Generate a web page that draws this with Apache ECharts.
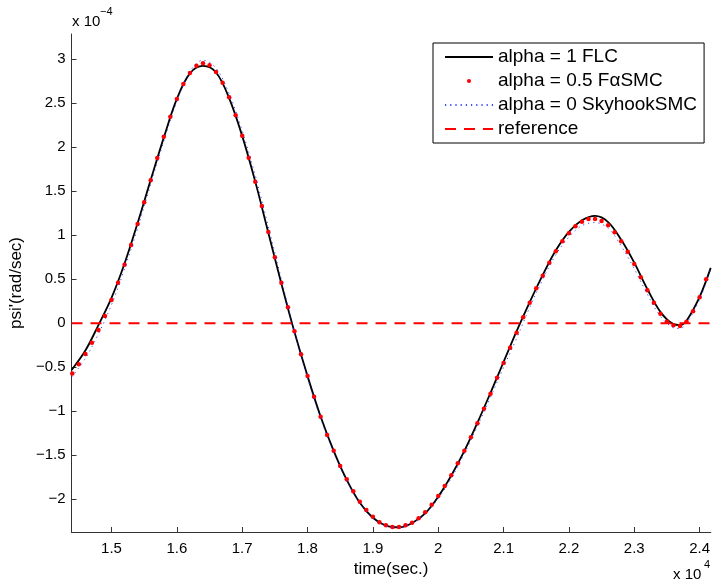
<!DOCTYPE html>
<html>
<head>
<meta charset="utf-8">
<title>psi' response</title>
<script src="https://cdn.jsdelivr.net/npm/echarts@6/dist/echarts.min.js"></script>
<style>
  html, body { margin: 0; padding: 0; background: #fff; }
  #chart { width: 713px; height: 584px; }
</style>
</head>
<body>
<div id="chart"></div>
<script>
// Time in units of 1e4 s, yaw rate psi' in units of 1e-4 rad/s.

// alpha = 1 (FLC), solid black
const flcTime = [1.439, 1.46, 1.48, 1.50, 1.52, 1.54, 1.56, 1.58, 1.60, 1.62, 1.64, 1.66, 1.68,
  1.70, 1.72, 1.74, 1.76, 1.78, 1.80, 1.82, 1.84, 1.86, 1.88, 1.90, 1.92, 1.94, 1.96, 1.98,
  2.00, 2.02, 2.04, 2.06, 2.08, 2.10, 2.12, 2.14, 2.16, 2.18, 2.20, 2.22, 2.24, 2.26, 2.28,
  2.30, 2.32, 2.34, 2.36, 2.37, 2.38, 2.40, 2.417];
const flcRate = [-0.53, -0.31, -0.02, 0.29, 0.68, 1.14, 1.63, 2.11, 2.55, 2.84, 2.925, 2.85, 2.56,
  2.13, 1.61, 1.03, 0.45, -0.10, -0.60, -1.06, -1.45, -1.78, -2.04, -2.21, -2.30, -2.32, -2.27, -2.16,
  -1.97, -1.73, -1.45, -1.13, -0.79, -0.44, -0.09, 0.24, 0.55, 0.83, 1.04, 1.17, 1.22, 1.15, 0.95,
  0.69, 0.39, 0.13, -0.01, -0.02, 0.03, 0.30, 0.63];

// alpha = 0.5 (FαSMC), red point markers
const fsmcTime = [1.44, 1.45, 1.46, 1.47, 1.48, 1.49, 1.50, 1.51, 1.52, 1.53, 1.54, 1.55, 1.56, 1.57,
  1.58, 1.59, 1.60, 1.61, 1.62, 1.63, 1.64, 1.65, 1.66, 1.67, 1.68, 1.69, 1.70, 1.71, 1.72, 1.73,
  1.74, 1.75, 1.76, 1.77, 1.78, 1.79, 1.80, 1.81, 1.82, 1.83, 1.84, 1.85, 1.86, 1.87, 1.88, 1.89,
  1.90, 1.91, 1.92, 1.93, 1.94, 1.95, 1.96, 1.97, 1.98, 1.99, 2.00, 2.01, 2.02, 2.03, 2.04, 2.05,
  2.06, 2.07, 2.08, 2.09, 2.10, 2.11, 2.12, 2.13, 2.14, 2.15, 2.16, 2.17, 2.18, 2.19, 2.20, 2.21,
  2.22, 2.23, 2.24, 2.25, 2.26, 2.27, 2.28, 2.29, 2.30, 2.31, 2.32, 2.33, 2.34, 2.35, 2.36, 2.37,
  2.38, 2.39, 2.40, 2.41];
const fsmcRate = [-0.57, -0.466, -0.35, -0.22, -0.076, 0.083, 0.265, 0.46, 0.666, 0.89, 1.128, 1.375,
  1.625, 1.878, 2.12, 2.348, 2.549, 2.72, 2.844, 2.927, 2.955, 2.932, 2.856, 2.734, 2.568, 2.364,
  2.132, 1.882, 1.61, 1.333, 1.0375, 0.75, 0.461, 0.182, -0.091, -0.352, -0.599, -0.834, -1.061,
  -1.269, -1.448, -1.622, -1.773, -1.909, -2.027, -2.122, -2.198, -2.261, -2.295, -2.315, -2.315,
  -2.295, -2.266, -2.216, -2.148, -2.061, -1.963, -1.849, -1.727, -1.591, -1.448, -1.295, -1.136,
  -0.97, -0.80, -0.62, -0.45, -0.277, -0.107, 0.068, 0.234, 0.398, 0.541, 0.689, 0.818, 0.932,
  1.023, 1.102, 1.155, 1.185, 1.185, 1.163, 1.114, 1.034, 0.932, 0.814, 0.674, 0.523, 0.375,
  0.234, 0.109, 0.018, -0.023, -0.031, 0.018, 0.136, 0.295, 0.50];

// alpha = 0 (SkyhookSMC), blue dotted
const skyTime = [1.439, 1.46, 1.48, 1.50, 1.52, 1.54, 1.56, 1.58, 1.60, 1.62, 1.64, 1.66, 1.68,
  1.70, 1.72, 1.74, 1.76, 1.78, 1.80, 1.82, 1.84, 1.86, 1.88, 1.90, 1.92, 1.94, 1.96, 1.98,
  2.00, 2.02, 2.04, 2.06, 2.08, 2.10, 2.12, 2.14, 2.16, 2.18, 2.20, 2.22, 2.24, 2.26, 2.28,
  2.30, 2.32, 2.34, 2.36, 2.37, 2.38, 2.40, 2.417];
const skyRate = [-0.61, -0.40, -0.12, 0.21, 0.62, 1.08, 1.58, 2.07, 2.52, 2.86, 2.99, 2.90, 2.61,
  2.19, 1.68, 1.10, 0.50, -0.10, -0.62, -1.08, -1.47, -1.79, -2.04, -2.21, -2.30, -2.32, -2.27, -2.16,
  -1.99, -1.76, -1.48, -1.17, -0.84, -0.50, -0.17, 0.18, 0.50, 0.78, 0.98, 1.11, 1.145, 1.08, 0.88,
  0.62, 0.33, 0.08, -0.05, -0.06, 0.00, 0.27, 0.62];

// zero reference
const refTime = [1.4388, 2.4172];
const refRate = [0, 0];

// tick labels
const xTicks = [1.5, 1.6, 1.7, 1.8, 1.9, 2.0, 2.1, 2.2, 2.3, 2.4];
const yTicks = [-2, -1.5, -1, -0.5, 0, 0.5, 1, 1.5, 2, 2.5, 3];

const seriesNames = ['alpha = 1 FLC', 'alpha = 0.5 F\u03b1SMC', 'alpha = 0 SkyhookSMC', 'reference'];

const pairs = (xs, ys) => xs.map((x, i) => [x, ys[i]]);
const FONT = "'Liberation Sans', Arial, Helvetica, sans-serif";
const AXIS_COLOR = '#333';

const fmtX = v => String(Math.round(v * 10) / 10);
const fmtY = v => {
  const r = Math.round(v * 10) / 10;
  return r < 0 ? '\u2212' + String(-r) : String(r);
};

const chart = echarts.init(document.getElementById('chart'), null, { renderer: 'canvas' });

chart.setOption({
  animation: false,
  backgroundColor: '#fff',
  textStyle: { fontFamily: FONT },
  grid: { left: 70, top: 34, width: 642, height: 498, containLabel: false },
  xAxis: {
    type: 'value',
    min: 1.4388,
    max: 2.4172,
    name: 'time(sec.)',
    nameLocation: 'middle',
    nameGap: 28,
    nameTextStyle: { fontSize: 17, color: '#000', fontFamily: FONT },
    axisLine: { show: true, onZero: false, lineStyle: { color: AXIS_COLOR, width: 1 } },
    axisTick: { show: true, inside: true, length: 5, customValues: xTicks, lineStyle: { color: AXIS_COLOR } },
    axisLabel: { show: true, customValues: xTicks, formatter: fmtX, margin: 9, fontSize: 15, color: '#000', fontFamily: FONT },
    splitLine: { show: false }
  },
  yAxis: {
    type: 'value',
    min: -2.372,
    max: 3.288,
    name: "psi'(rad/sec)",
    nameLocation: 'middle',
    nameRotate: 90,
    nameGap: 43,
    nameTextStyle: { fontSize: 17, color: '#000', fontFamily: FONT },
    axisLine: { show: true, onZero: false, lineStyle: { color: AXIS_COLOR, width: 1 } },
    axisTick: { show: true, inside: true, length: 5, customValues: yTicks, lineStyle: { color: AXIS_COLOR } },
    axisLabel: { show: true, customValues: yTicks, formatter: fmtY, margin: 6, fontSize: 15, color: '#000', fontFamily: FONT },
    splitLine: { show: false }
  },
  legend: {
    orient: 'vertical',
    left: 433,
    top: 43,
    backgroundColor: '#fff',
    borderColor: '#000',
    borderWidth: 1,
    borderRadius: 0,
    padding: [4, 7, 4, 11],
    itemWidth: 48,
    itemHeight: 5,
    itemGap: 4,
    itemTextGap: 6,
    selectedMode: false,
    textStyle: { fontSize: 19, lineHeight: 20, color: '#000', fontFamily: FONT },
    data: [
      { name: seriesNames[0], itemStyle: { opacity: 0 } },
      { name: seriesNames[1] },
      { name: seriesNames[2], itemStyle: { opacity: 0 } },
      { name: seriesNames[3], itemStyle: { opacity: 0 } }
    ]
  },
  series: [
    {
      name: seriesNames[0],
      type: 'line',
      data: pairs(flcTime, flcRate),
      smooth: 0.35,
      symbol: 'none',
      lineStyle: { color: '#000', width: 1.8 },
      itemStyle: { color: '#000' },
      z: 2
    },
    {
      name: seriesNames[1],
      type: 'line',
      data: pairs(fsmcTime, fsmcRate),
      symbol: 'circle',
      symbolSize: 4.5,
      showSymbol: true,
      lineStyle: { width: 0, opacity: 0 },
      itemStyle: { color: '#ff0000', borderWidth: 0 },
      z: 3
    },
    {
      name: seriesNames[2],
      type: 'line',
      data: pairs(skyTime, skyRate),
      smooth: 0.35,
      symbol: 'none',
      lineStyle: { color: 'rgba(20,40,255,0.85)', width: 1, type: [1.2, 4] },
      itemStyle: { color: '#1428ff' },
      z: 4
    },
    {
      name: seriesNames[3],
      type: 'line',
      data: pairs(refTime, refRate),
      symbol: 'none',
      lineStyle: { color: '#ff0000', width: 2, type: [11, 8] },
      itemStyle: { color: '#ff0000' },
      z: 5
    }
  ],
  graphic: [
    { type: 'text', left: 72, top: 14, style: { text: 'x 10', fontSize: 15, fill: '#000', fontFamily: FONT } },
    { type: 'text', left: 100, top: 6, style: { text: '\u22124', fontSize: 11, fill: '#000', fontFamily: FONT } },
    { type: 'text', left: 673, top: 567, style: { text: 'x 10', fontSize: 15, fill: '#000', fontFamily: FONT } },
    { type: 'text', left: 704, top: 559, style: { text: '4', fontSize: 11, fill: '#000', fontFamily: FONT } }
  ]
});
</script>
</body>
</html>
